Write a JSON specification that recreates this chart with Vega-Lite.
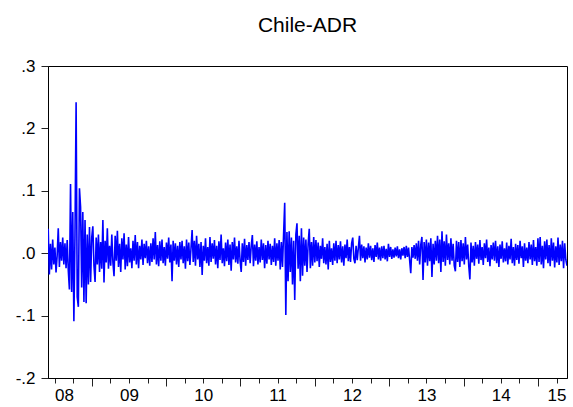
{
"$schema": "https://vega.github.io/schema/vega-lite/v6.json",
"width": 519, "height": 312,
"autosize": "none",
"padding": {"left": 48, "top": 66, "right": 6, "bottom": 29},
"background": "white",
"title": {"text": "Chile-ADR", "font": "Liberation Sans", "fontSize": 21, "fontWeight": "normal", "color": "#000", "offset": 21, "anchor": "middle"},
"data": {"values": [
{"t":2008.415,"r":0.039},{"t":2008.430,"r":-0.034},{"t":2008.445,"r":0.015},{"t":2008.460,"r":-0.026},{"t":2008.475,"r":0.022},{"t":2008.490,"r":-0.018},{"t":2008.505,"r":0.009},{"t":2008.520,"r":-0.031},{"t":2008.535,"r":-0.004},{"t":2008.550,"r":0.04},
{"t":2008.565,"r":-0.022},{"t":2008.580,"r":0.018},{"t":2008.595,"r":-0.012},{"t":2008.610,"r":0.025},{"t":2008.625,"r":-0.018},{"t":2008.640,"r":0.016},{"t":2008.655,"r":-0.024},{"t":2008.670,"r":0.021},{"t":2008.685,"r":-0.028},{"t":2008.700,"r":-0.058},
{"t":2008.715,"r":0.111},{"t":2008.730,"r":-0.062},{"t":2008.745,"r":0.066},{"t":2008.760,"r":-0.109},{"t":2008.775,"r":0.03},{"t":2008.790,"r":0.242},{"t":2008.805,"r":-0.07},{"t":2008.820,"r":-0.086},{"t":2008.835,"r":0.104},{"t":2008.850,"r":0.074},
{"t":2008.865,"r":-0.055},{"t":2008.880,"r":0.066},{"t":2008.895,"r":-0.078},{"t":2008.910,"r":0.053},{"t":2008.925,"r":-0.08},{"t":2008.940,"r":0.03},{"t":2008.955,"r":-0.05},{"t":2008.970,"r":0.042},{"t":2008.985,"r":-0.046},{"t":2009.000,"r":0.025},
{"t":2009.015,"r":0.043},{"t":2009.030,"r":-0.02},{"t":2009.045,"r":-0.046},{"t":2009.060,"r":0.025},{"t":2009.075,"r":-0.018},{"t":2009.090,"r":0.03},{"t":2009.105,"r":-0.03},{"t":2009.120,"r":0.018},{"t":2009.135,"r":-0.025},{"t":2009.150,"r":0.053},
{"t":2009.165,"r":-0.047},{"t":2009.180,"r":0.02},{"t":2009.195,"r":-0.015},{"t":2009.210,"r":0.04},{"t":2009.225,"r":-0.025},{"t":2009.240,"r":0.012},{"t":2009.255,"r":-0.02},{"t":2009.270,"r":0.03},{"t":2009.285,"r":-0.015},{"t":2009.300,"r":-0.037},
{"t":2009.315,"r":0.028},{"t":2009.330,"r":-0.012},{"t":2009.345,"r":0.036},{"t":2009.360,"r":-0.022},{"t":2009.375,"r":0.015},{"t":2009.390,"r":-0.03},{"t":2009.405,"r":0.024},{"t":2009.420,"r":-0.01},{"t":2009.435,"r":0.032},{"t":2009.450,"r":-0.026},
{"t":2009.465,"r":0.014},{"t":2009.480,"r":-0.021},{"t":2009.495,"r":0.026},{"t":2009.510,"r":-0.015},{"t":2009.525,"r":0.008},{"t":2009.540,"r":-0.024},{"t":2009.555,"r":0.02},{"t":2009.570,"r":-0.012},{"t":2009.585,"r":0.029},{"t":2009.600,"r":-0.018},
{"t":2009.615,"r":0.018},{"t":2009.630,"r":-0.024},{"t":2009.645,"r":0.012},{"t":2009.660,"r":-0.01},{"t":2009.675,"r":0.022},{"t":2009.690,"r":-0.019},{"t":2009.705,"r":0.015},{"t":2009.720,"r":-0.008},{"t":2009.735,"r":0.02},{"t":2009.750,"r":-0.016},
{"t":2009.765,"r":0.011},{"t":2009.780,"r":-0.02},{"t":2009.795,"r":0.016},{"t":2009.810,"r":-0.014},{"t":2009.825,"r":0.024},{"t":2009.840,"r":-0.01},{"t":2009.855,"r":0.034},{"t":2009.870,"r":-0.018},{"t":2009.885,"r":0.013},{"t":2009.900,"r":-0.021},
{"t":2009.915,"r":0.019},{"t":2009.930,"r":-0.012},{"t":2009.945,"r":0.022},{"t":2009.960,"r":-0.016},{"t":2009.975,"r":0.01},{"t":2009.990,"r":-0.02},{"t":2010.005,"r":0.017},{"t":2010.020,"r":-0.009},{"t":2010.035,"r":0.025},{"t":2010.050,"r":-0.015},
{"t":2010.065,"r":0.014},{"t":2010.080,"r":-0.045},{"t":2010.095,"r":0.02},{"t":2010.110,"r":-0.012},{"t":2010.125,"r":0.016},{"t":2010.140,"r":-0.018},{"t":2010.155,"r":0.012},{"t":2010.170,"r":-0.022},{"t":2010.185,"r":0.018},{"t":2010.200,"r":-0.01},
{"t":2010.215,"r":0.02},{"t":2010.230,"r":-0.016},{"t":2010.245,"r":0.011},{"t":2010.260,"r":-0.025},{"t":2010.275,"r":0.022},{"t":2010.290,"r":-0.013},{"t":2010.305,"r":0.017},{"t":2010.320,"r":-0.019},{"t":2010.335,"r":0.008},{"t":2010.350,"r":0.037},
{"t":2010.365,"r":-0.014},{"t":2010.380,"r":0.02},{"t":2010.395,"r":-0.02},{"t":2010.410,"r":0.028},{"t":2010.425,"r":-0.01},{"t":2010.440,"r":0.015},{"t":2010.455,"r":-0.022},{"t":2010.470,"r":0.018},{"t":2010.485,"r":-0.035},{"t":2010.500,"r":0.012},
{"t":2010.515,"r":-0.012},{"t":2010.530,"r":0.024},{"t":2010.545,"r":-0.016},{"t":2010.560,"r":0.01},{"t":2010.575,"r":-0.02},{"t":2010.590,"r":0.026},{"t":2010.605,"r":-0.014},{"t":2010.620,"r":0.016},{"t":2010.635,"r":-0.009},{"t":2010.650,"r":0.021},
{"t":2010.665,"r":-0.018},{"t":2010.680,"r":0.012},{"t":2010.695,"r":-0.024},{"t":2010.710,"r":0.019},{"t":2010.725,"r":-0.011},{"t":2010.740,"r":0.03},{"t":2010.755,"r":-0.016},{"t":2010.770,"r":0.008},{"t":2010.785,"r":-0.021},{"t":2010.800,"r":0.017},
{"t":2010.815,"r":-0.013},{"t":2010.830,"r":0.022},{"t":2010.845,"r":-0.019},{"t":2010.860,"r":0.014},{"t":2010.875,"r":-0.028},{"t":2010.890,"r":0.018},{"t":2010.905,"r":-0.01},{"t":2010.920,"r":0.025},{"t":2010.935,"r":-0.015},{"t":2010.950,"r":0.011},
{"t":2010.965,"r":-0.017},{"t":2010.980,"r":0.02},{"t":2010.995,"r":-0.012},{"t":2011.010,"r":-0.03},{"t":2011.025,"r":0.016},{"t":2011.040,"r":-0.014},{"t":2011.055,"r":0.023},{"t":2011.070,"r":-0.02},{"t":2011.085,"r":0.013},{"t":2011.100,"r":-0.011},
{"t":2011.115,"r":0.018},{"t":2011.130,"r":-0.016},{"t":2011.145,"r":0.012},{"t":2011.160,"r":0.029},{"t":2011.175,"r":-0.021},{"t":2011.190,"r":0.014},{"t":2011.205,"r":-0.012},{"t":2011.220,"r":0.019},{"t":2011.235,"r":-0.018},{"t":2011.250,"r":0.01},
{"t":2011.265,"r":-0.015},{"t":2011.280,"r":0.022},{"t":2011.295,"r":-0.011},{"t":2011.310,"r":0.016},{"t":2011.325,"r":-0.024},{"t":2011.340,"r":0.013},{"t":2011.355,"r":-0.017},{"t":2011.370,"r":0.02},{"t":2011.385,"r":-0.01},{"t":2011.400,"r":0.015},
{"t":2011.415,"r":-0.019},{"t":2011.430,"r":0.012},{"t":2011.445,"r":-0.014},{"t":2011.460,"r":0.024},{"t":2011.475,"r":-0.02},{"t":2011.490,"r":0.016},{"t":2011.505,"r":-0.012},{"t":2011.520,"r":0.021},{"t":2011.535,"r":-0.026},{"t":2011.550,"r":0.018},
{"t":2011.565,"r":-0.022},{"t":2011.580,"r":0.03},{"t":2011.595,"r":0.081},{"t":2011.610,"r":-0.099},{"t":2011.625,"r":0.034},{"t":2011.640,"r":-0.045},{"t":2011.655,"r":0.035},{"t":2011.670,"r":-0.03},{"t":2011.685,"r":0.025},{"t":2011.700,"r":-0.05},
{"t":2011.715,"r":0.02},{"t":2011.730,"r":-0.075},{"t":2011.745,"r":0.03},{"t":2011.760,"r":0.048},{"t":2011.775,"r":-0.025},{"t":2011.790,"r":0.028},{"t":2011.805,"r":-0.045},{"t":2011.820,"r":0.04},{"t":2011.835,"r":-0.036},{"t":2011.850,"r":0.025},
{"t":2011.865,"r":-0.02},{"t":2011.880,"r":0.022},{"t":2011.895,"r":-0.03},{"t":2011.910,"r":0.015},{"t":2011.925,"r":0.039},{"t":2011.940,"r":-0.024},{"t":2011.955,"r":0.018},{"t":2011.970,"r":-0.02},{"t":2011.985,"r":0.026},{"t":2012.000,"r":-0.015},
{"t":2012.015,"r":0.021},{"t":2012.030,"r":-0.013},{"t":2012.045,"r":0.017},{"t":2012.060,"r":-0.022},{"t":2012.075,"r":0.012},{"t":2012.090,"r":-0.009},{"t":2012.105,"r":0.024},{"t":2012.120,"r":-0.016},{"t":2012.135,"r":0.01},{"t":2012.150,"r":-0.018},
{"t":2012.165,"r":0.015},{"t":2012.180,"r":-0.026},{"t":2012.195,"r":0.02},{"t":2012.210,"r":-0.014},{"t":2012.225,"r":0.008},{"t":2012.240,"r":-0.019},{"t":2012.255,"r":0.016},{"t":2012.270,"r":-0.012},{"t":2012.285,"r":0.02},{"t":2012.300,"r":-0.016},
{"t":2012.315,"r":0.013},{"t":2012.330,"r":-0.01},{"t":2012.345,"r":0.019},{"t":2012.360,"r":-0.015},{"t":2012.375,"r":0.011},{"t":2012.390,"r":-0.02},{"t":2012.405,"r":0.014},{"t":2012.420,"r":-0.008},{"t":2012.435,"r":0.022},{"t":2012.450,"r":-0.013},
{"t":2012.465,"r":0.01},{"t":2012.480,"r":-0.014},{"t":2012.495,"r":0.016},{"t":2012.510,"r":0.025},{"t":2012.525,"r":-0.009},{"t":2012.540,"r":-0.016},{"t":2012.555,"r":0.012},{"t":2012.570,"r":-0.011},{"t":2012.585,"r":0.008},{"t":2012.600,"r":0.028},
{"t":2012.615,"r":-0.012},{"t":2012.630,"r":0.014},{"t":2012.645,"r":-0.008},{"t":2012.660,"r":0.011},{"t":2012.675,"r":-0.015},{"t":2012.690,"r":0.009},{"t":2012.705,"r":-0.01},{"t":2012.720,"r":0.016},{"t":2012.735,"r":-0.007},{"t":2012.750,"r":0.012},
{"t":2012.765,"r":-0.011},{"t":2012.780,"r":0.008},{"t":2012.795,"r":-0.014},{"t":2012.810,"r":0.013},{"t":2012.825,"r":-0.006},{"t":2012.840,"r":0.017},{"t":2012.855,"r":-0.01},{"t":2012.870,"r":0.009},{"t":2012.885,"r":-0.012},{"t":2012.900,"r":0.011},
{"t":2012.915,"r":-0.008},{"t":2012.930,"r":0.012},{"t":2012.945,"r":-0.01},{"t":2012.960,"r":0.007},{"t":2012.975,"r":-0.013},{"t":2012.990,"r":0.015},{"t":2013.005,"r":-0.006},{"t":2013.020,"r":0.01},{"t":2013.035,"r":-0.009},{"t":2013.050,"r":0.006},
{"t":2013.065,"r":-0.007},{"t":2013.080,"r":0.009},{"t":2013.095,"r":-0.005},{"t":2013.110,"r":0.011},{"t":2013.125,"r":-0.008},{"t":2013.140,"r":0.006},{"t":2013.155,"r":-0.01},{"t":2013.170,"r":0.008},{"t":2013.185,"r":-0.004},{"t":2013.200,"r":0.01},
{"t":2013.215,"r":-0.008},{"t":2013.230,"r":0.012},{"t":2013.245,"r":-0.006},{"t":2013.260,"r":0.009},{"t":2013.275,"r":-0.011},{"t":2013.290,"r":-0.032},{"t":2013.305,"r":0.01},{"t":2013.320,"r":-0.007},{"t":2013.335,"r":0.013},{"t":2013.350,"r":-0.009},
{"t":2013.365,"r":0.016},{"t":2013.380,"r":-0.012},{"t":2013.395,"r":0.02},{"t":2013.410,"r":-0.018},{"t":2013.425,"r":0.014},{"t":2013.440,"r":0.026},{"t":2013.455,"r":-0.043},{"t":2013.470,"r":0.018},{"t":2013.485,"r":-0.015},{"t":2013.500,"r":0.022},
{"t":2013.515,"r":-0.02},{"t":2013.530,"r":0.017},{"t":2013.545,"r":-0.013},{"t":2013.560,"r":0.024},{"t":2013.575,"r":-0.038},{"t":2013.590,"r":0.015},{"t":2013.605,"r":-0.018},{"t":2013.620,"r":0.02},{"t":2013.635,"r":-0.012},{"t":2013.650,"r":0.028},
{"t":2013.665,"r":-0.016},{"t":2013.680,"r":0.022},{"t":2013.695,"r":-0.03},{"t":2013.710,"r":0.035},{"t":2013.725,"r":-0.014},{"t":2013.740,"r":0.019},{"t":2013.755,"r":-0.02},{"t":2013.770,"r":0.03},{"t":2013.785,"r":-0.011},{"t":2013.800,"r":0.016},
{"t":2013.815,"r":-0.018},{"t":2013.830,"r":0.024},{"t":2013.845,"r":-0.012},{"t":2013.860,"r":0.015},{"t":2013.875,"r":-0.02},{"t":2013.890,"r":-0.029},{"t":2013.905,"r":0.02},{"t":2013.920,"r":-0.014},{"t":2013.935,"r":0.018},{"t":2013.950,"r":-0.022},
{"t":2013.965,"r":0.021},{"t":2013.980,"r":-0.013},{"t":2013.995,"r":0.016},{"t":2014.010,"r":-0.018},{"t":2014.025,"r":0.026},{"t":2014.040,"r":-0.01},{"t":2014.055,"r":0.014},{"t":2014.070,"r":-0.02},{"t":2014.085,"r":-0.042},{"t":2014.100,"r":0.017},
{"t":2014.115,"r":-0.015},{"t":2014.130,"r":0.012},{"t":2014.145,"r":-0.02},{"t":2014.160,"r":0.018},{"t":2014.175,"r":-0.009},{"t":2014.190,"r":0.014},{"t":2014.205,"r":-0.017},{"t":2014.220,"r":0.021},{"t":2014.235,"r":-0.011},{"t":2014.250,"r":0.01},
{"t":2014.265,"r":-0.019},{"t":2014.280,"r":0.016},{"t":2014.295,"r":-0.008},{"t":2014.310,"r":0.022},{"t":2014.325,"r":-0.014},{"t":2014.340,"r":0.009},{"t":2014.355,"r":-0.021},{"t":2014.370,"r":0.013},{"t":2014.385,"r":-0.01},{"t":2014.400,"r":0.017},
{"t":2014.415,"r":-0.012},{"t":2014.430,"r":0.02},{"t":2014.445,"r":-0.016},{"t":2014.460,"r":0.011},{"t":2014.475,"r":-0.022},{"t":2014.490,"r":0.014},{"t":2014.505,"r":-0.009},{"t":2014.520,"r":0.019},{"t":2014.535,"r":-0.015},{"t":2014.550,"r":0.008},
{"t":2014.565,"r":-0.013},{"t":2014.580,"r":0.017},{"t":2014.595,"r":-0.018},{"t":2014.610,"r":0.012},{"t":2014.625,"r":-0.01},{"t":2014.640,"r":0.023},{"t":2014.655,"r":-0.016},{"t":2014.670,"r":0.01},{"t":2014.685,"r":-0.02},{"t":2014.700,"r":0.015},
{"t":2014.715,"r":-0.011},{"t":2014.730,"r":0.013},{"t":2014.745,"r":-0.017},{"t":2014.760,"r":0.02},{"t":2014.775,"r":-0.008},{"t":2014.790,"r":0.011},{"t":2014.805,"r":-0.022},{"t":2014.820,"r":0.016},{"t":2014.835,"r":-0.012},{"t":2014.850,"r":0.009},
{"t":2014.865,"r":-0.016},{"t":2014.880,"r":0.018},{"t":2014.895,"r":-0.01},{"t":2014.910,"r":0.014},{"t":2014.925,"r":-0.019},{"t":2014.940,"r":0.021},{"t":2014.955,"r":-0.013},{"t":2014.970,"r":0.01},{"t":2014.985,"r":-0.02},{"t":2015.000,"r":0.024},
{"t":2015.015,"r":-0.014},{"t":2015.030,"r":0.026},{"t":2015.045,"r":-0.018},{"t":2015.060,"r":0.012},{"t":2015.075,"r":-0.024},{"t":2015.090,"r":0.019},{"t":2015.105,"r":-0.01},{"t":2015.120,"r":0.022},{"t":2015.135,"r":-0.016},{"t":2015.150,"r":0.013},
{"t":2015.165,"r":-0.021},{"t":2015.180,"r":0.024},{"t":2015.195,"r":-0.012},{"t":2015.210,"r":0.017},{"t":2015.225,"r":-0.023},{"t":2015.240,"r":0.011},{"t":2015.255,"r":-0.015},{"t":2015.270,"r":0.025},{"t":2015.285,"r":-0.019},{"t":2015.300,"r":0.014},
{"t":2015.315,"r":-0.013},{"t":2015.330,"r":0.02},{"t":2015.345,"r":-0.024},{"t":2015.360,"r":0.016},{"t":2015.375,"r":-0.01},{"t":2015.390,"r":-0.02}
]},
"mark": {"type": "line", "color": "#0000FF", "strokeWidth": 1.6, "clip": true},
"encoding": {
  "x": {"field": "t", "type": "quantitative",
    "scale": {"domain": [2008.412, 2015.391], "nice": false, "zero": false},
    "axis": {"title": null, "grid": false,
      "values": [2008.5,2008.75,2009,2009.25,2009.5,2009.75,2010,2010.25,2010.5,2010.75,2011,2011.25,2011.5,2011.75,2012,2012.25,2012.5,2012.75,2013,2013.25,2013.5,2013.75,2014,2014.25,2014.5,2014.75,2015,2015.25],
      "tickSize": {"condition": {"test": "datum.value % 1 == 0", "value": 8}, "value": 5},
      "tickColor": "#222", "tickWidth": 1,
      "domainColor": "#000",
      "labelExpr": "datum.value == 2015.25 ? '15' : (datum.value % 1 == 0.5 ? substring(toString(floor(datum.value)), 2) : '')",
      "labelAlign": {"condition": {"test": "datum.value == 2008.5", "value": "left"}, "value": "center"},
      "labelFont": "Liberation Sans", "labelFontSize": 17, "labelColor": "#000",
      "labelPadding": 4, "labelOverlap": false, "labelFlush": false, "labelBound": false}},
  "y": {"field": "r", "type": "quantitative",
    "scale": {"domain": [-0.2, 0.3], "nice": false, "zero": false},
    "axis": {"title": null, "grid": false,
      "values": [-0.2,-0.1,0,0.1,0.2,0.3],
      "tickSize": 7, "tickColor": "#222", "domainColor": "#000",
      "labelExpr": "(datum.value < 0 ? '-' : '') + '.' + format(abs(datum.value) * 10, '.0f')",
      "labelFont": "Liberation Sans", "labelFontSize": 17, "labelColor": "#000",
      "labelPadding": 6, "labelOverlap": false, "labelBound": false}}
},
"config": {"view": {"stroke": "#000", "strokeWidth": 1}}
}
